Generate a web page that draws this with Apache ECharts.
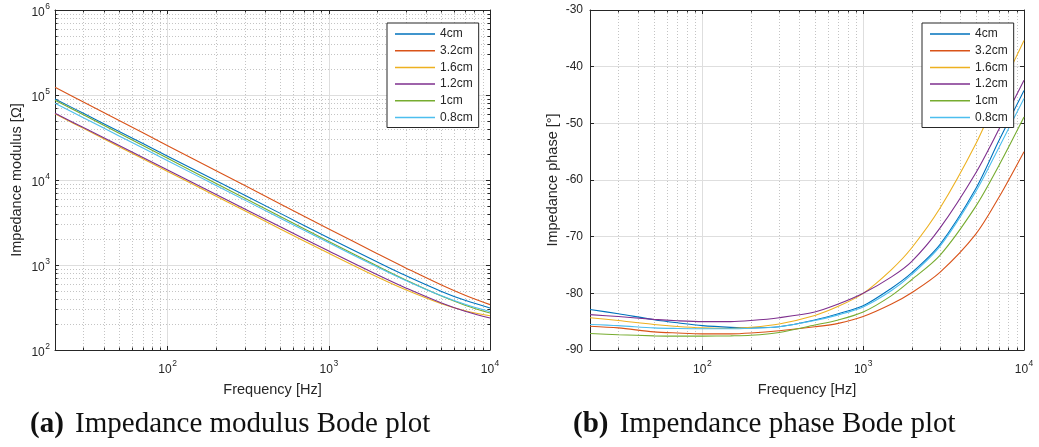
<!DOCTYPE html>
<html>
<head>
<meta charset="utf-8">
<script src="https://cdn.jsdelivr.net/npm/echarts@6/dist/echarts.min.js"></script>
<style>
  html, body { margin: 0; padding: 0; background: #fff; }
  #chart { width: 1039px; height: 447px; }
</style>
</head>
<body>
<div id="chart"></div>
<script>
// Frequencies (Hz) of the modulus samples
const freq = [20, 30, 50, 100, 200, 500, 1000, 2000, 3000, 5000, 7000, 10000];
// Frequencies (Hz) of the phase samples
const freqPhase = [20, 30, 50, 70, 100, 150, 200, 300, 500, 700, 1000, 1500, 2000, 3000, 5000, 7000, 10000];

// Electrode spacings
const names = ['4cm', '3.2cm', '1.6cm', '1.2cm', '1cm', '0.8cm'];

// Impedance modulus |Z| (ohm)
const mod4cm  = [90000, 60880, 37210, 19070, 9776, 4050, 2083, 1084, 750, 489, 384, 312];
const mod32cm = [123000, 82630, 50060, 25360, 12860, 5234, 2658, 1357, 924, 581, 441, 342];
const mod16cm = [60000, 40500, 24690, 12610, 6444, 2660, 1371, 722, 511, 350, 290, 253];
const mod12cm = [61000, 41390, 25410, 13100, 6752, 2816, 1460, 767, 537, 357, 286, 238];
const mod1cm  = [87000, 58470, 35440, 17970, 9110, 3716, 1891, 972, 668, 431, 337, 272];
const mod08cm = [80000, 54020, 32950, 16850, 8610, 3553, 1825, 950, 659, 434, 345, 284];

// Impedance phase (degrees)
const ph4cm  = [-82.85, -83.6, -84.65, -85.2, -85.7, -86.0, -86.1, -85.9, -84.7, -83.6, -82.2, -79.1, -76.4, -71.4, -61.6, -53.0, -44.2];
const ph32cm = [-85.8, -86.1, -86.8, -87.0, -87.15, -87.15, -87.0, -86.6, -85.9, -85.3, -84.1, -81.9, -79.9, -76.3, -69.6, -63.0, -55.0];
const ph16cm = [-84.3, -84.8, -85.5, -85.85, -86.1, -86.2, -86.0, -85.4, -83.9, -82.3, -80.0, -75.8, -72.0, -65.0, -53.7, -44.6, -35.4];
const ph12cm = [-83.75, -84.1, -84.6, -84.85, -85.0, -85.0, -84.8, -84.3, -83.3, -81.9, -80.0, -77.1, -74.4, -68.5, -58.8, -51.0, -42.4];
const ph1cm  = [-87.1, -87.3, -87.5, -87.55, -87.55, -87.5, -87.4, -86.9, -85.6, -84.7, -83.3, -80.4, -77.6, -73.3, -64.7, -57.4, -48.9];
const ph08cm = [-85.5, -85.7, -86.1, -86.2, -86.25, -86.25, -86.15, -85.9, -84.8, -83.8, -82.4, -79.5, -76.7, -71.7, -62.1, -54.2, -45.6];

// Minor grid positions (2..9 of each decade)
const minorFreq = [30, 40, 50, 60, 70, 80, 90, 200, 300, 400, 500, 600, 700, 800, 900,
                   2000, 3000, 4000, 5000, 6000, 7000, 8000, 9000];
const minorMod = [200, 300, 400, 500, 600, 700, 800, 900,
                  2000, 3000, 4000, 5000, 6000, 7000, 8000, 9000,
                  20000, 30000, 40000, 50000, 60000, 70000, 80000, 90000,
                  200000, 300000, 400000, 500000, 600000, 700000, 800000, 900000];

const colors = ['#0072BD', '#D95319', '#EDB120', '#7E2F8E', '#77AC30', '#4DBEEE'];
const modSets = [mod4cm, mod32cm, mod16cm, mod12cm, mod1cm, mod08cm];
const phSets = [ph4cm, ph32cm, ph16cm, ph12cm, ph1cm, ph08cm];

const AXIS = '#262626';
const GRID_MAJOR = '#dedede';
const GRID_MINOR = '#c4c4c4';
const SANS = '"Liberation Sans", Arial, Helvetica, sans-serif';
const SERIF = '"Liberation Serif", "Times New Roman", serif';

// Power-of-ten tick labels: "10" with a raised exponent
function powLabel(v) {
  const e = Math.log10(v);
  const r = Math.round(e);
  if (Math.abs(e - r) > 1e-6) return '';
  return '{b|10}{s|' + r + '}';
}
const powRich = {
  b: { fontSize: 12, lineHeight: 14, padding: [6, 0, 0, 0], color: AXIS, fontFamily: SANS },
  s: { fontSize: 8.5, lineHeight: 10, padding: [2, 0, 8, 0.5], color: AXIS, fontFamily: SANS }
};

// Dotted minor grid line plus small inward ticks on both opposite edges
function minorXItem(params, api) {
  const cs = params.coordSys;
  const x = Math.round(api.coord([api.value(0), api.value(1)])[0]) + 0.5;
  const top = cs.y, bot = cs.y + cs.height;
  return { type: 'group', children: [
    { type: 'line', shape: { x1: x, y1: top, x2: x, y2: bot }, style: { stroke: GRID_MINOR, lineWidth: 1, lineDash: [1, 2] } },
    { type: 'line', shape: { x1: x, y1: bot, x2: x, y2: bot - 2.5 }, style: { stroke: AXIS, lineWidth: 1 } },
    { type: 'line', shape: { x1: x, y1: top, x2: x, y2: top + 2.5 }, style: { stroke: AXIS, lineWidth: 1 } }
  ] };
}
function minorYItem(params, api) {
  const cs = params.coordSys;
  const y = Math.round(api.coord([api.value(0), api.value(1)])[1]) + 0.5;
  const l = cs.x, r = cs.x + cs.width;
  return { type: 'group', children: [
    { type: 'line', shape: { x1: l, y1: y, x2: r, y2: y }, style: { stroke: GRID_MINOR, lineWidth: 1, lineDash: [1, 2] } },
    { type: 'line', shape: { x1: l, y1: y, x2: l + 2.5, y2: y }, style: { stroke: AXIS, lineWidth: 1 } },
    { type: 'line', shape: { x1: r, y1: y, x2: r - 2.5, y2: y }, style: { stroke: AXIS, lineWidth: 1 } }
  ] };
}

function freqAxis(gridIndex, bottom) {
  return {
    type: 'log', logBase: 10, gridIndex: gridIndex, min: 20, max: 10000, splitNumber: 3,
    position: bottom ? 'bottom' : 'top',
    axisLine: { show: true, onZero: false, lineStyle: { color: AXIS, width: 1 } },
    axisTick: { show: true, inside: true, length: 4, lineStyle: { color: AXIS } },
    axisLabel: bottom ? { show: true, margin: 10, formatter: powLabel, rich: powRich } : { show: false },
    splitLine: bottom ? { show: true, lineStyle: { color: GRID_MAJOR, width: 1 } } : { show: false },
    name: bottom ? 'Frequency [Hz]' : '',
    nameLocation: 'middle', nameGap: 32,
    nameTextStyle: { fontFamily: SANS, fontSize: 14.5, color: AXIS }
  };
}

const legendBase = {
  orient: 'vertical', data: names, icon: 'rect', itemWidth: 40, itemHeight: 1.5, itemGap: 2.7,
  backgroundColor: '#fff', borderColor: AXIS, borderWidth: 1, borderRadius: 0,
  padding: [4, 6, 3, 8],
  textStyle: { fontFamily: SANS, fontSize: 12, color: AXIS, lineHeight: 14 },
  selectedMode: false
};

const series = [];
// minor grids
series.push({ type: 'custom', xAxisIndex: 0, yAxisIndex: 0, silent: true, z: 1,
  renderItem: minorXItem, data: minorFreq.map(f => [f, 1000]) });
series.push({ type: 'custom', xAxisIndex: 0, yAxisIndex: 0, silent: true, z: 1,
  renderItem: minorYItem, data: minorMod.map(m => [100, m]) });
series.push({ type: 'custom', xAxisIndex: 2, yAxisIndex: 2, silent: true, z: 1,
  renderItem: minorXItem, data: minorFreq.map(f => [f, -60]) });

names.forEach((n, i) => {
  series.push({
    name: n, type: 'line', xAxisIndex: 0, yAxisIndex: 0, z: 3,
    data: freq.map((f, k) => [f, modSets[i][k]]),
    showSymbol: false, symbol: 'none', smooth: 0.4,
    lineStyle: { width: 1.1, color: colors[i] }, itemStyle: { color: colors[i] }
  });
});
names.forEach((n, i) => {
  series.push({
    name: n, type: 'line', xAxisIndex: 2, yAxisIndex: 2, z: 3,
    data: freqPhase.map((f, k) => [f, phSets[i][k]]),
    showSymbol: false, symbol: 'none', smooth: 0.3,
    lineStyle: { width: 1.1, color: colors[i] }, itemStyle: { color: colors[i] }
  });
});

const captionRich = {
  b: { fontFamily: SERIF, fontWeight: 'bold', fontSize: 29, color: '#111', padding: [0, 4, 0, 0] },
  n: { fontFamily: SERIF, fontWeight: 'normal', fontSize: 29, color: '#111' }
};

const option = {
  animation: false,
  backgroundColor: '#fff',
  color: colors,
  title: [
    { text: '{b|(a)}{n| Impedance modulus Bode plot}', left: 30, top: 410, padding: 0,
      textStyle: { fontWeight: 'normal', rich: captionRich } },
    { text: '{b|(b)}{n| Impendance phase Bode plot}', left: 573, top: 410, padding: 0,
      textStyle: { fontWeight: 'normal', rich: captionRich } }
  ],
  legend: [
    Object.assign({}, legendBase, { left: 387, top: 23 }),
    Object.assign({}, legendBase, { left: 922, top: 23 })
  ],
  grid: [
    { left: 55, top: 10, width: 435, height: 340 },
    { left: 590, top: 10, width: 434, height: 340 }
  ],
  xAxis: [freqAxis(0, true), freqAxis(0, false), freqAxis(1, true), freqAxis(1, false)],
  yAxis: [
    {
      type: 'log', logBase: 10, gridIndex: 0, min: 100, max: 1000000, splitNumber: 4, position: 'left',
      axisLine: { show: true, onZero: false, lineStyle: { color: AXIS } },
      axisTick: { show: true, inside: true, length: 4, lineStyle: { color: AXIS } },
      axisLabel: { margin: 5, formatter: powLabel, rich: powRich },
      splitLine: { show: true, lineStyle: { color: GRID_MAJOR, width: 1 } },
      name: 'Impedance modulus [Ω]', nameLocation: 'middle', nameGap: 31,
      nameTextStyle: { fontFamily: SANS, fontSize: 14.5, color: AXIS }
    },
    {
      type: 'log', logBase: 10, gridIndex: 0, min: 100, max: 1000000, splitNumber: 4, position: 'right',
      axisLine: { show: true, onZero: false, lineStyle: { color: AXIS } },
      axisTick: { show: true, inside: true, length: 4, lineStyle: { color: AXIS } },
      axisLabel: { show: false }, splitLine: { show: false }
    },
    {
      type: 'value', gridIndex: 1, min: -90, max: -30, interval: 10, position: 'left',
      axisLine: { show: true, onZero: false, lineStyle: { color: AXIS } },
      axisTick: { show: true, inside: true, length: 4, lineStyle: { color: AXIS } },
      axisLabel: { margin: 7, fontFamily: SANS, fontSize: 12, color: AXIS },
      splitLine: { show: true, lineStyle: { color: GRID_MAJOR, width: 1 } },
      name: 'Impedance phase [°]', nameLocation: 'middle', nameGap: 30,
      nameTextStyle: { fontFamily: SANS, fontSize: 14.5, color: AXIS }
    },
    {
      type: 'value', gridIndex: 1, min: -90, max: -30, interval: 10, position: 'right',
      axisLine: { show: true, onZero: false, lineStyle: { color: AXIS } },
      axisTick: { show: true, inside: true, length: 4, lineStyle: { color: AXIS } },
      axisLabel: { show: false }, splitLine: { show: false }
    }
  ],
  series: series
};

const chart = echarts.init(document.getElementById('chart'), null, { renderer: 'canvas' });
chart.setOption(option);
</script>
</body>
</html>
